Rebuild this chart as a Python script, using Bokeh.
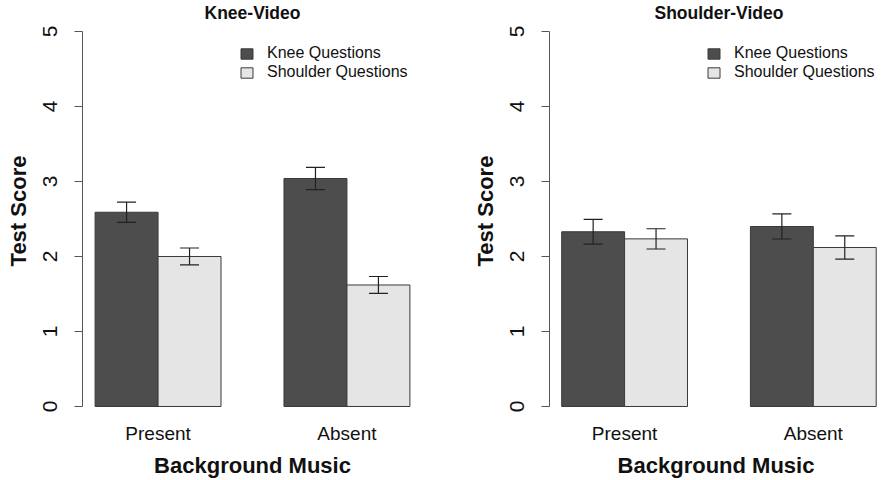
from bokeh.plotting import figure
from bokeh.layouts import row
from bokeh.models import (ColumnDataSource, Range1d, FixedTicker, Whisker, TeeHead,
                          Legend, LegendItem, Label)
from bokeh.embed import file_html
from bokeh.resources import INLINE

# ---------------- data ----------------
categories = ["Present", "Absent"]
series_names = ["Knee Questions", "Shoulder Questions"]
panel_titles = ["Knee-Video", "Shoulder-Video"]

knee_video_knee = [2.59, 3.04]
knee_video_knee_se = [0.135, 0.148]
knee_video_shoulder = [2.00, 1.62]
knee_video_shoulder_se = [0.113, 0.113]

shoulder_video_knee = [2.33, 2.40]
shoulder_video_knee_se = [0.165, 0.167]
shoulder_video_shoulder = [2.235, 2.12]
shoulder_video_shoulder_se = [0.135, 0.154]

y_ticks = [0, 1, 2, 3, 4, 5]

# ---------------- style ----------------
FONT = "Liberation Sans"
BAR_COLORS = ["#4d4d4d", "#e5e5e5"]
BAR_LINE = "#3a3a3a"
AXIS_COLOR = "#555555"
TEXT_COLOR = "#111111"


def make_panel(title, series_vals, series_se, width, border_left, border_right,
               x_start, x_end, legend_x):
    n_groups = len(categories)
    n_series = len(series_vals)
    p = figure(width=width, height=480, output_backend="svg", toolbar_location=None,
               title=None, min_border_left=border_left, min_border_right=border_right,
               min_border_top=0, min_border_bottom=59,
               x_range=Range1d(x_start, x_end), y_range=Range1d(-0.2, 5.4133))
    p.outline_line_color = None
    p.xgrid.visible = False
    p.ygrid.visible = False
    p.background_fill_color = "white"
    p.border_fill_color = "white"

    renderers = []
    for s in range(n_series):
        xs = [1 + g * (n_series + 1) + s + 0.5 for g in range(n_groups)]
        tops = series_vals[s]
        ses = series_se[s]
        src = ColumnDataSource(dict(
            x=xs, top=tops,
            upper=[t + e for t, e in zip(tops, ses)],
            lower=[t - e for t, e in zip(tops, ses)],
        ))
        r = p.vbar(x="x", top="top", bottom=0, width=1.0, source=src,
                   fill_color=BAR_COLORS[s], line_color=BAR_LINE, line_width=1)
        renderers.append(r)
        w = Whisker(source=src, base="x", upper="upper", lower="lower",
                    line_color="#222222", line_width=1.2, level="overlay",
                    upper_head=TeeHead(size=19, line_color="#222222", line_width=1.2),
                    lower_head=TeeHead(size=19, line_color="#222222", line_width=1.2))
        p.add_layout(w)

    # x axis: group labels at group centres
    centers = [1 + g * (n_series + 1) + n_series / 2 for g in range(n_groups)]
    xa = p.xaxis[0]
    xa.ticker = FixedTicker(ticks=centers)
    xa.major_label_overrides = {c: lab for c, lab in zip(centers, categories)}
    xa.axis_line_color = None
    xa.major_tick_line_color = None
    xa.minor_tick_line_color = None
    xa.major_tick_out = 0
    xa.major_tick_in = 0
    xa.major_label_standoff = 1
    xa.major_label_text_font = FONT
    xa.major_label_text_font_size = "19px"
    xa.major_label_text_color = TEXT_COLOR
    xa.axis_label = "Background Music"
    xa.axis_label_text_font = FONT
    xa.axis_label_text_font_size = "22px"
    xa.axis_label_text_font_style = "bold"
    xa.axis_label_text_color = TEXT_COLOR
    xa.axis_label_standoff = 6

    ya = p.yaxis[0]
    ya.ticker = FixedTicker(ticks=y_ticks)
    ya.bounds = (y_ticks[0], y_ticks[-1])
    ya.axis_line_color = AXIS_COLOR
    ya.major_tick_line_color = AXIS_COLOR
    ya.minor_tick_line_color = None
    ya.major_tick_out = 8
    ya.major_tick_in = 0
    ya.major_label_orientation = "vertical"
    ya.major_label_standoff = 17
    ya.major_label_text_font = FONT
    ya.major_label_text_font_size = "21px"
    ya.major_label_text_color = TEXT_COLOR
    ya.axis_label = "Test Score"
    ya.axis_label_text_font = FONT
    ya.axis_label_text_font_size = "22px"
    ya.axis_label_text_font_style = "bold"
    ya.axis_label_text_color = TEXT_COLOR
    ya.axis_label_standoff = 10

    # panel title
    mid = (1 + (n_groups * (n_series + 1))) / 2
    p.add_layout(Label(x=mid, y=y_ticks[-1], y_offset=18.2, text=title,
                       text_align="center", text_baseline="alphabetic",
                       text_font=FONT, text_font_size="17.5px", text_font_style="bold",
                       text_color=TEXT_COLOR))

    legend = Legend(items=[LegendItem(label=series_names[i], renderers=[renderers[i]])
                           for i in range(n_series)],
                    location=(legend_x, 340), orientation="vertical",
                    label_text_font=FONT, label_text_font_size="16px",
                    label_text_color=TEXT_COLOR,
                    glyph_width=15, glyph_height=13, label_standoff=13,
                    label_height=18, spacing=1, padding=0, margin=0,
                    border_line_color=None, background_fill_alpha=0)
    p.add_layout(legend)
    return p


p1 = make_panel(panel_titles[0], [knee_video_knee, knee_video_shoulder],
                [knee_video_knee_se, knee_video_shoulder_se],
                width=441, border_left=82, border_right=19,
                x_start=0.8, x_end=6.2, legend_x=157)
p2 = make_panel(panel_titles[1], [shoulder_video_knee, shoulder_video_shoulder],
                [shoulder_video_knee_se, shoulder_video_shoulder_se],
                width=441, border_left=108, border_right=0,
                x_start=0.806, x_end=6.1, legend_x=157)

layout = row(p1, p2)
open("out.html", "w").write(file_html(layout, INLINE))
